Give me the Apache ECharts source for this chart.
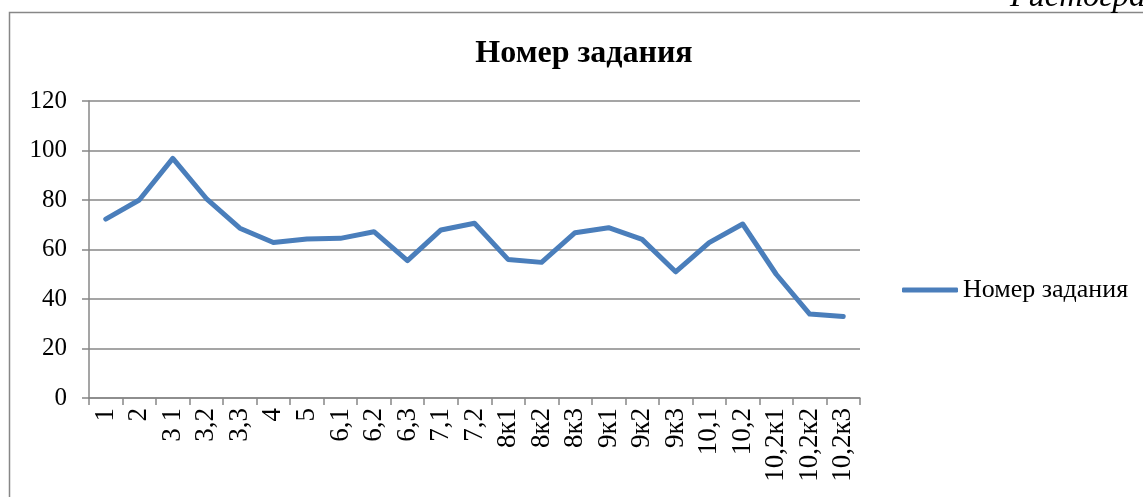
<!DOCTYPE html>
<html>
<head>
<meta charset="utf-8">
<script src="https://cdn.jsdelivr.net/npm/echarts@6/dist/echarts.min.js"></script>
<style>
  html, body { margin: 0; padding: 0; background: #fff; }
  #chart { width: 1143px; height: 497px; }
</style>
</head>
<body>
<div id="chart"></div>
<script>
// данные
var categories = [ '1', '2', '3 1', '3,2', '3,3', '4', '5', '6,1', '6,2', '6,3', '7,1', '7,2',
                   '8к1', '8к2', '8к3', '9к1', '9к2', '9к3', '10,1', '10,2', '10,2к1', '10,2к2', '10,2к3' ] ;
var values = [ 72.3, 80, 96.8, 80.6, 68.6, 62.8, 64.2, 64.5, 67.2, 55.5, 67.9, 70.6,
               56.0, 54.8, 66.8, 68.8, 64.1, 51.0, 62.8, 70.3, 50.0, 33.9, 32.9 ] ;
var yTicks = [ 0, 20, 40, 60, 80, 100, 120 ] ;
var seriesName = 'Номер задания' ;

var serif = '"Liberation Serif", "DejaVu Serif", serif' ;
var gray = '#878787' ;

var chart = echarts.init( document.getElementById( 'chart' ) ) ;
chart.setOption( {
   animation: false,
   title: {
      text: seriesName,
      left: 579,
      top: 33,
      textAlign: 'center',
      textStyle: { fontFamily: serif, fontSize: 32, fontWeight: 'bold', color: '#000' }
   },
   legend: {
      data: [ seriesName ],
      left: 897,
      top: 272,
      icon: 'roundRect',
      itemWidth: 56,
      itemHeight: 5,
      itemGap: 4,
      textStyle: { fontFamily: serif, fontSize: 26, color: '#000' }
   },
   grid: { left: 89, right: 283, top: 101, bottom: 99 },
   xAxis: {
      type: 'category',
      data: categories,
      boundaryGap: true,
      axisLine: { lineStyle: { color: gray, width: 1.5 } },
      axisTick: { show: true, length: 7, lineStyle: { color: gray, width: 1.5 } },
      axisLabel: { rotate: 90, margin: 10, interval: 0, fontFamily: serif, fontSize: 27, color: '#000' }
   },
   yAxis: {
      type: 'value',
      min: yTicks[0],
      max: yTicks[yTicks.length - 1],
      interval: 20,
      axisLine: { show: true, lineStyle: { color: gray, width: 1.5 } },
      axisTick: { show: true, length: 7, lineStyle: { color: gray, width: 1.5 } },
      axisLabel: { margin: 22, fontFamily: serif, fontSize: 25, color: '#000' },
      splitLine: { lineStyle: { color: gray, width: 1.5 } }
   },
   series: [ {
      name: seriesName,
      type: 'line',
      data: values,
      symbol: 'none',
      lineStyle: { color: '#4a7ebb', width: 5, cap: 'round', join: 'round' },
      itemStyle: { color: '#4a7ebb' }
   } ],
   graphic: [
      {
         type: 'rect',
         shape: { x: 9.5, y: 12.5, width: 1300, height: 700 },
         style: { fill: 'none', stroke: gray, lineWidth: 1.5 },
         silent: true
      },
      {
         type: 'text',
         x: 1010,
         y: -19,
         style: { text: 'Гистограмма', font: 'italic 33px ' + serif, fill: '#000' },
         silent: true
      }
   ]
} ) ;
</script>
</body>
</html>
